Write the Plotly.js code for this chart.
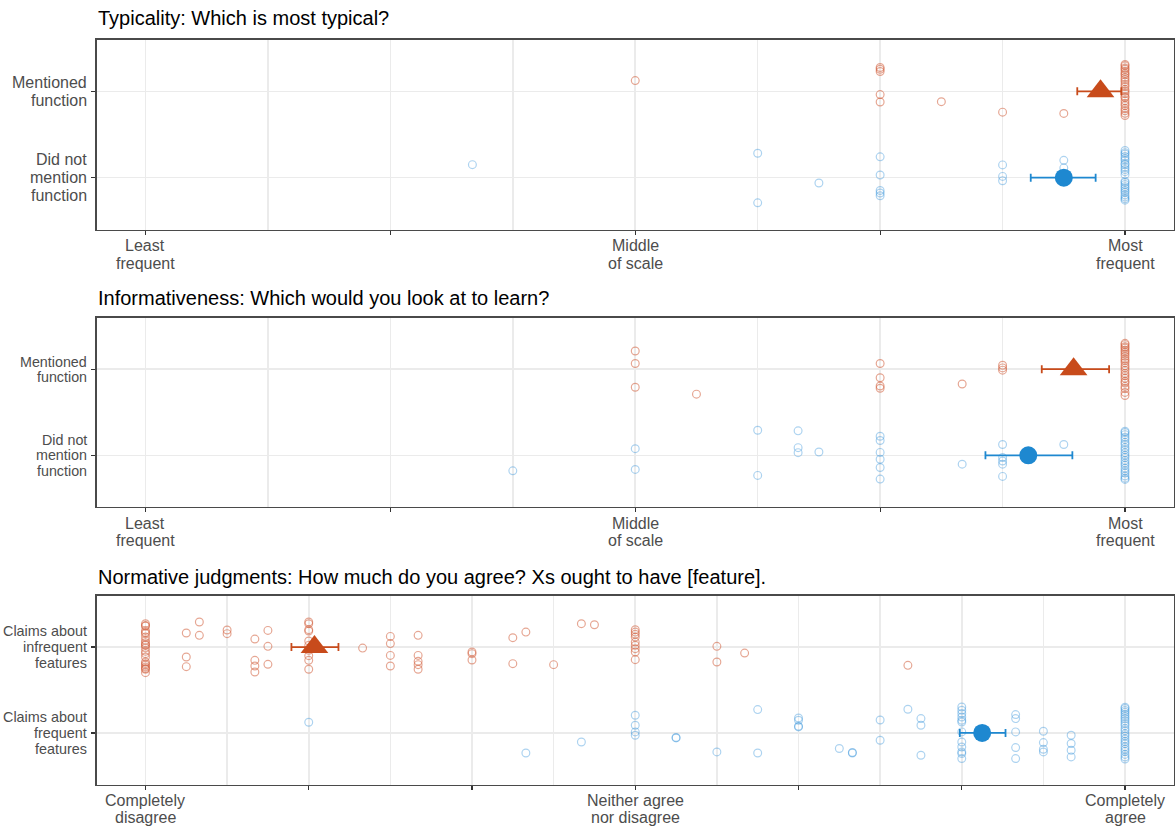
<!DOCTYPE html>
<html>
<head>
<meta charset="utf-8">
<script src="https://cdn.plot.ly/plotly-3.0.1.min.js"></script>
<style>html,body{margin:0;padding:0;background:#fff;}#chart{width:1176px;height:827px;}</style>
</head>
<body>
<div id="chart"></div>
<script>
// ---------- Panel titles and tick labels ----------
const titles = [
  "Typicality: Which is most typical?",
  "Informativeness: Which would you look at to learn?",
  "Normative judgments: How much do you agree? Xs ought to have [feature]."
];
const freqTickVals = [1, 3, 5, 7, 9];
const freqTickLabels = [["Least", "frequent"], [], ["Middle", "of scale"], [], ["Most", "frequent"]];
const agreeTickVals = [1, 2, 3, 4, 5, 6, 7];
const agreeTickLabels = [["Completely", "disagree"], [], [], ["Neither agree", "nor disagree"], [], [], ["Completely", "agree"]];
const catVals = [1, 2];
const functionCats = [["Did not", "mention", "function"], ["Mentioned", "function"]];
const claimCats = [["Claims about", "frequent", "features"], ["Claims about", "infrequent", "features"]];

// ---------- Panel 1: Typicality (individual jittered responses) ----------
const typMentX = [5, 7, 7, 7, 7, 7, 7.5, 8, 8.5,
  9,9,9,9,9,9,9,9,9,9,9,9,9,9,9,9,9,9,9,9,9,9,9,9];
const typMentY = [2.124, 2.276, 2.256, 2.229, 1.962, 1.876, 1.880, 1.759, 1.744,
  2.31, 2.295, 2.27, 2.255, 2.23, 2.205, 2.19, 2.16, 2.135, 2.11, 2.08, 2.055, 2.02, 2.0, 1.975, 1.94, 1.925, 1.89, 1.86, 1.835, 1.8, 1.775, 1.745, 1.72];
const typNotX = [3.67, 6, 6, 6.5, 7, 7, 7, 7, 7, 8, 8, 8, 8.5, 8.5,
  9,9,9,9,9,9,9,9,9,9,9,9,9,9,9,9,9,9,9,9,9,9,9];
const typNotY = [1.151, 1.283, 0.709, 0.938, 1.241, 1.031, 0.852, 0.822, 0.791, 1.148, 1.015, 0.965, 1.201, 1.113,
  1.315, 1.29, 1.275, 1.245, 1.22, 1.2, 1.165, 1.15, 1.12, 1.095, 1.07, 1.035, 0.96, 0.945, 0.92, 0.895, 0.875, 0.85, 0.83, 0.8, 0.775, 0.755, 0.74];
// means with 95% CI
const typMentMean = 8.80, typMentLo = 8.61, typMentHi = 8.97;
const typNotMean = 8.50, typNotLo = 8.23, typNotHi = 8.76;

// ---------- Panel 2: Informativeness ----------
const infMentX = [5, 5, 5, 5.5, 7, 7, 7, 7, 7.67, 8, 8, 8,
  9,9,9,9,9,9,9,9,9,9,9,9,9,9,9,9,9,9,9,9,9,9,9];
const infMentY = [2.211, 2.066, 1.790, 1.710, 2.066, 1.900, 1.805, 1.778, 1.828, 2.046, 2.015, 1.989,
  2.3, 2.285, 2.26, 2.245, 2.22, 2.2, 2.175, 2.15, 2.12, 2.1, 2.075, 2.04, 2.015, 1.985, 1.95, 1.925, 1.895, 1.86, 1.84, 1.8, 1.775, 1.73, 1.695];
const infNotX = [4, 5, 5, 6, 6, 6.33, 6.33, 6.33, 6.5, 7, 7, 7, 7, 7, 7, 7.67, 8, 8, 8, 8, 8, 8.5,
  9,9,9,9,9,9,9,9,9,9,9,9,9,9,9,9,9,9,9,9,9];
const infNotY = [0.820, 1.077, 0.836, 1.291, 0.767, 1.284, 1.089, 1.031, 1.038, 1.222, 1.172, 1.034, 0.954, 0.859, 0.724, 0.897, 1.126, 0.974, 0.934, 0.897, 0.755, 1.126,
  1.28, 1.265, 1.24, 1.21, 1.185, 1.15, 1.125, 1.09, 1.065, 1.03, 1.0, 0.975, 0.94, 0.91, 0.885, 0.85, 0.82, 0.795, 0.76, 0.735, 0.72];
const infMentMean = 8.58, infMentLo = 8.32, infMentHi = 8.87;
const infNotMean = 8.21, infNotLo = 7.86, infNotHi = 8.57;

// ---------- Panel 3: Normative judgments ----------
const normInfX = [1,1,1,1,1,1,1,1,1,1,1,1,1,1,1,1,1,1,1,1,1,1,
  1.25, 1.25, 1.25, 1.33, 1.33, 1.5, 1.5, 1.67, 1.67, 1.67, 1.67, 1.75, 1.75, 1.75,
  2, 2, 2, 2, 2, 2, 2, 2, 2, 2,
  2.33, 2.5, 2.5, 2.5, 2.5, 2.67, 2.67, 2.67, 2.67, 2.67, 3, 3, 3, 3.25, 3.25, 3.33, 3.5, 3.67, 3.75,
  4, 4, 4, 4, 4, 4, 4, 4, 4, 4.5, 4.5, 4.67, 5.67];
const normInfY = [2.272, 2.25, 2.244, 2.194, 2.17, 2.156, 2.116, 2.078, 2.05, 2.028, 2.02, 1.99, 1.95, 1.923, 1.884, 1.826, 1.807, 1.79, 1.767, 1.75, 1.741, 1.702,
  2.163, 1.884, 1.772, 2.291, 2.136, 2.198, 2.156, 2.093, 1.845, 1.779, 1.709, 2.194, 2.008, 1.799,
  2.291, 2.272, 2.202, 2.186, 2.07, 2.02, 1.962, 1.90, 1.845, 1.741,
  1.988, 2.124, 2.040, 1.903, 1.779, 2.136, 1.903, 1.834, 1.795, 1.741, 1.942, 1.923, 1.849, 2.109, 1.807, 2.174, 1.795, 2.272, 2.260,
  2.202, 2.174, 2.148, 2.116, 2.058, 2.020, 1.981, 1.942, 1.853, 2.008, 1.826, 1.930, 1.787];
const normFreqX = [2, 3.33, 3.67, 4, 4, 4, 4, 4.25, 4.25, 4.5, 4.75, 4.75, 5, 5, 5, 5, 5.25, 5.33, 5.33, 5.5, 5.5, 5.67, 5.75, 5.75, 5.75,
  6, 6, 6, 6, 6, 6, 6, 6, 6, 6, 6, 6,
  6.33, 6.33, 6.33, 6.33, 6.33, 6.5, 6.5, 6.5, 6.5, 6.67, 6.67, 6.67, 6.67,
  7,7,7,7,7,7,7,7,7,7,7,7,7,7,7,7,7,7,7,7,7,7,7];
const normFreqY = [1.124, 0.767, 0.895, 1.206, 1.090, 1.012, 0.973, 0.942, 0.947, 0.779, 1.272, 0.767, 1.174, 1.148, 1.078, 1.070, 0.819, 0.767, 0.772, 1.151, 0.915, 1.276, 1.167, 1.090, 0.741,
  1.302, 1.264, 1.226, 1.186, 1.148, 1.128, 1.012, 0.895, 0.837, 0.779, 0.760, 0.702,
  1.214, 1.167, 1.012, 0.830, 0.702, 1.020, 0.888, 0.810, 0.779, 0.973, 0.877, 0.799, 0.721,
  1.3, 1.285, 1.26, 1.24, 1.215, 1.19, 1.165, 1.14, 1.11, 1.085, 1.05, 1.025, 0.99, 0.965, 0.93, 0.9, 0.875, 0.84, 0.81, 0.785, 0.75, 0.72, 0.696];
const normInfMean = 2.035, normInfLo = 1.894, normInfHi = 2.182;
const normFreqMean = 6.125, normFreqLo = 5.988, normFreqHi = 6.268;

// ---------- Styling ----------
const RED = "#C84B1B", BLUE = "#1E88D0";
const RED_PT = "rgba(210,95,60,0.55)", BLUE_PT = "rgba(40,140,215,0.38)";
const FONT = "Liberation Sans, Arial, Helvetica, sans-serif";

function pts(x, y, col, xa, ya) {
  return {type: "scatter", mode: "markers", x: x, y: y, xaxis: xa, yaxis: ya,
    marker: {symbol: "circle-open", size: 7.8, color: col, line: {width: 1.2, color: col}},
    hoverinfo: "x+y", showlegend: false};
}
function mean(m, lo, hi, yv, col, sym, sz, xa, ya) {
  return {type: "scatter", mode: "markers", x: [m], y: [yv], xaxis: xa, yaxis: ya,
    error_x: {type: "data", symmetric: false, array: [hi - m], arrayminus: [m - lo], color: col, thickness: 1.8, width: 4},
    marker: {symbol: sym, size: sz, color: col, line: {width: 0}},
    showlegend: false};
}

const traces = [
  pts(typMentX, typMentY, RED_PT, "x", "y"),
  pts(typNotX, typNotY, BLUE_PT, "x", "y"),
  mean(typMentMean, typMentLo, typMentHi, 2, RED, "triangle-up", 24, "x", "y"),
  mean(typNotMean, typNotLo, typNotHi, 1, BLUE, "circle", 18, "x", "y"),
  pts(infMentX, infMentY, RED_PT, "x2", "y2"),
  pts(infNotX, infNotY, BLUE_PT, "x2", "y2"),
  mean(infMentMean, infMentLo, infMentHi, 2, RED, "triangle-up", 24, "x2", "y2"),
  mean(infNotMean, infNotLo, infNotHi, 1, BLUE, "circle", 18, "x2", "y2"),
  pts(normInfX, normInfY, RED_PT, "x3", "y3"),
  pts(normFreqX, normFreqY, BLUE_PT, "x3", "y3"),
  mean(normInfMean, normInfLo, normInfHi, 2, RED, "triangle-up", 24, "x3", "y3"),
  mean(normFreqMean, normFreqLo, normFreqHi, 1, BLUE, "circle", 18, "x3", "y3")
];

const GRID = "#EBEBEB", LINE = "#4a4a4a", TICKC = "#4D4D4D";
function xax(dom, range, tv, minorVals, anchor) {
  return {domain: dom, range: range, anchor: anchor, tickmode: "array", tickvals: tv, showticklabels: false,
    ticks: "outside", ticklen: 4, tickwidth: 1.1, tickcolor: "#333",
    showgrid: true, gridcolor: GRID, gridwidth: 1.6, zeroline: false,
    minor: {tickmode: "array", tickvals: minorVals, showgrid: true, gridcolor: GRID, gridwidth: 1.4, ticks: ""},
    showline: true, mirror: true, linecolor: LINE, linewidth: 1.2, automargin: false, fixedrange: true};
}
function yax(dom, anchor) {
  return {domain: dom, range: [0.4, 2.6], anchor: anchor, tickmode: "array", tickvals: catVals, showticklabels: false,
    ticks: "outside", ticklen: 4, tickwidth: 1.1, tickcolor: "#333",
    showgrid: true, gridcolor: GRID, gridwidth: 1.6, zeroline: false,
    showline: true, mirror: true, linecolor: LINE, linewidth: 1.2, automargin: false, fixedrange: true};
}

// tick labels as one annotation per text line (ggplot-like tight line spacing)
const annotations = [];
function xLabels(xa, ya, vals, labels) {
  vals.forEach((v, k) => {
    labels[k].forEach((line, i) => {
      annotations.push({text: line, xref: xa, yref: ya + " domain", x: v, y: 0, yanchor: "middle", xanchor: "center",
        yshift: -16 - i * 17.5, showarrow: false, font: {size: 16, color: TICKC, family: FONT}});
    });
  });
}
function yLabels(xa, ya, labels, fs, step) {
  catVals.forEach((v, k) => {
    const lines = labels[k], n = lines.length;
    lines.forEach((line, i) => {
      annotations.push({text: line, xref: xa + " domain", yref: ya, x: 0, y: v, xanchor: "right", yanchor: "middle",
        xshift: -8, yshift: -(i - (n - 1) / 2) * step, showarrow: false, font: {size: fs, color: TICKC, family: FONT}});
    });
  });
}
xLabels("x", "y", freqTickVals, freqTickLabels);
xLabels("x2", "y2", freqTickVals, freqTickLabels);
xLabels("x3", "y3", agreeTickVals, agreeTickLabels);
yLabels("x", "y", functionCats, 16, 18);
yLabels("x2", "y2", functionCats, 14.3, 15.3);
yLabels("x3", "y3", claimCats, 14.4, 15.8);

const W = 1176, H = 827;
const titleY = [18, 298, 577];
titles.forEach((t, i) => {
  annotations.push({text: t, xref: "paper", yref: "paper", x: 96 / W, y: 1 - titleY[i] / H, xanchor: "left", yanchor: "middle",
    showarrow: false, font: {size: 20, color: "#000", family: FONT}});
});

const xd = [96.5 / W, 1174 / W];
const layout = {
  width: W, height: H,
  margin: {l: 0, r: 0, t: 0, b: 0, pad: 0},
  paper_bgcolor: "#fff", plot_bgcolor: "#fff",
  font: {family: FONT, color: TICKC},
  showlegend: false,
  xaxis: xax(xd, [0.6, 9.4], freqTickVals, [2, 4, 6, 8], "y"),
  yaxis: yax([1 - 229.5 / H, 1 - 39.5 / H], "x"),
  xaxis2: xax(xd, [0.6, 9.4], freqTickVals, [2, 4, 6, 8], "y2"),
  yaxis2: yax([1 - 507 / H, 1 - 317.5 / H], "x2"),
  xaxis3: xax(xd, [0.7, 7.3], agreeTickVals, [1.5, 2.5, 3.5, 4.5, 5.5, 6.5], "y3"),
  yaxis3: yax([1 - 784.5 / H, 1 - 595.5 / H], "x3"),
  annotations: annotations
};

Plotly.newPlot("chart", traces, layout, {displayModeBar: false, staticPlot: true});
</script>
</body>
</html>
